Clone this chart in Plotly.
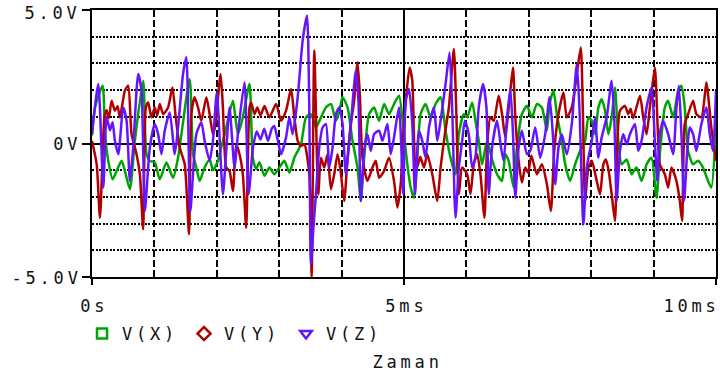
import plotly.graph_objects as go

# ---- data (time in ms, voltage in V) ----
time_x = [0, .048, .170, .208, .261, .330, .394, .474, .527, .607,
          .687, .820, .873, .927, 1.006, 1.086, 1.193, 1.299, 1.379, 1.565,
          1.619, 1.672, 1.725, 1.805, 1.885, 1.94, 2.018, 2.071, 2.151, 2.258,
          2.338, 2.417, 2.524, 2.577, 2.63, 2.684, 2.764, 2.843, 2.923, 3.003,
          3.083, 3.163, 3.243, 3.349, 3.429, 3.509, 3.589, 3.669, 3.749, 3.829,
          3.909, 3.962, 4.015, 4.095, 4.175, 4.255, 4.308, 4.361, 4.441, 4.521,
          4.601, 4.681, 4.760, 4.840, 4.920, 5.000, 5.053, 5.107, 5.160, 5.213,
          5.266, 5.346, 5.426, 5.506, 5.586, 5.666, 5.745, 5.825, 5.879, 5.958,
          6.012, 6.092, 6.145, 6.198, 6.251, 6.331, 6.411, 6.491, 6.571, 6.624,
          6.677, 6.757, 6.810, 6.890, 6.970, 7.050, 7.130, 7.210, 7.290, 7.332,
          7.396, 7.449, 7.529, 7.583, 7.662, 7.742, 7.822, 7.902, 7.955, 8.009,
          8.062, 8.115, 8.168, 8.222, 8.275, 8.328, 8.381, 8.435, 8.488, 8.568,
          8.647, 8.727, 8.807, 8.887, 8.967, 9.047, 9.100, 9.180, 9.233, 9.313,
          9.393, 9.446, 9.499, 9.553, 9.633, 9.712, 9.792, 9.872, 9.925, 10.0]
volt_x = [0.3, 1.35, 2.16, .35, -.65, -1.34, -1.03, -.65, -1.03, -1.71,
          .1, 2.35, -.4, -.65, -.71, -1.34, -.71, -1.28, -.53, 2.41,
          -.4, -.9, -1.4, -.9, -.6, -1.0, -.65, -.15, .6, 1.6,
          .35, .98, 2.23, -.53, -.95, -.7, -1.21, -.9, -1.15, -.9,
          -.65, -1.09, -.53, -.03, .98, 1.1, .6, .98, 1.35, 1.48,
          .85, 1.2, 1.73, 1.35, .1, -.9, -2.15, -.53, 1.1, 1.35,
          .85, 1.48, 1.1, 1.48, 1.79, .35, -.78, -1.65, -2.03, -.53,
          1.1, 1.48, .98, 1.48, 1.73, .48, -.53, -1.15, .35, 1.1,
          .98, 1.54, .85, .1, -.78, .1, -.59, -1.15, -1.4, -.4,
          -.65, -1.65, -.15, 1.1, 1.41, .98, 1.48, 1.35, .48, 1.48,
          1.98, 1.1, .1, -.78, -1.4, -.78, -.28, .1, .98, .85,
          .35, 1.35, 1.66, 1.23, .35, .98, 2.1, .1, -.78, -.6,
          -1.15, -.9, -1.4, -.78, -.53, -2.03, -.4, 1.35, 1.6, .98,
          1.98, 2.16, 1.35, -.28, -.78, -.65, -.9, -1.4, -1.65, .6]

time_y = [0, .075, .128, .2, .235, .27, .314, .367, .41, .447,
          .527, .580, .634, .714, .767, .820, .863, .900, .953, 1.006,
          1.045, 1.086, 1.140, 1.219, 1.289, 1.342, 1.406, 1.486, 1.555, 1.592,
          1.645, 1.699, 1.752, 1.832, 1.885, 1.938, 1.97, 2.061, 2.098, 2.151,
          2.204, 2.258, 2.311, 2.364, 2.417, 2.471, 2.524, 2.551, 2.604, 2.65,
          2.70, 2.764, 2.843, 2.950, 3.030, 3.110, 3.190, 3.243, 3.296, 3.349,
          3.403, 3.482, 3.520, 3.562, 3.626, 3.669, 3.722, 3.775, 3.829, 3.882,
          3.935, 3.98, 4.042, 4.095, 4.148, 4.201, 4.255, 4.292, 4.334, 4.414,
          4.494, 4.547, 4.601, 4.681, 4.760, 4.840, 4.894, 4.947, 4.989, 5.043,
          5.090, 5.133, 5.176, 5.21, 5.26, 5.320, 5.373, 5.453, 5.533, 5.586,
          5.655, 5.719, 5.799, 5.836, 5.879, 5.932, 6.012, 6.065, 6.118, 6.172,
          6.225, 6.289, 6.331, 6.384, 6.438, 6.518, 6.571, 6.624, 6.704, 6.747,
          6.784, 6.837, 6.890, 6.943, 6.99, 7.04, 7.130, 7.210, 7.290, 7.354,
          7.407, 7.476, 7.556, 7.609, 7.689, 7.769, 7.833, 7.865, 7.902, 7.955,
          8.009, 8.089, 8.142, 8.195, 8.235, 8.275, 8.328, 8.381, 8.424, 8.461,
          8.541, 8.594, 8.63, 8.674, 8.781, 8.834, 8.887, 8.940, 9.020, 9.063,
          9.100, 9.180, 9.233, 9.286, 9.366, 9.420, 9.457, 9.499, 9.553, 9.633,
          9.686, 9.766, 9.846, 9.883, 9.925, 10.0]
volt_y = [.1, -.78, -2.78, .98, 1.25, .95, 1.6, 1.23, 1.4, .98,
          1.98, 2.16, .35, -.4, -1.15, -3.21, 1.35, 1.54, .98, 1.35,
          1.05, 1.48, 1.1, 1.35, 2.1, .98, -.15, -.78, -3.4, 1.1,
          1.73, 1.35, .85, 1.73, 1.1, .35, .6, 2.6, 1.35, -.9,
          -1.03, -1.78, -.03, -.4, -1.15, -3.15, 1.35, 1.54, 1.1, 1.35,
          1.05, 1.4, .98, 1.48, .85, 1.23, 2.04, .98, .1, -.09,
          -.03, -1.15, -5.0, 3.48, -1.9, -.53, -.9, -.4, -1.71, -1.15,
          -.4, -.95, -2.15, -.53, .73, 1.6, 3.04, 1.85, -.53, -1.4,
          -.9, -.65, -1.28, -1.03, -.53, -1.4, -2.4, -1.53, .35, 1.98,
          2.85, 2.35, -.65, -.9, -.5, -.9, -.4, -1.15, -2.15, -.9,
          .35, 1.35, 3.54, 1.35, -1.9, -.9, -1.15, -1.9, -.78, -.4,
          -1.15, -2.78, -.15, .98, .85, 1.79, 1.1, .23, 1.98, 2.85,
          .98, -.65, -1.46, -.9, -1.1, -.45, -1.15, -.78, -1.53, -2.53,
          -.28, 1.1, 1.91, .98, 1.35, 2.6, 3.6, 1.35, -2.15, -.9,
          -.65, -1.4, -1.9, -.78, -.6, -.95, -1.9, -2.9, .35, 1.23,
          1.41, 1.1, 1.3, .95, 1.79, .98, .35, 1.35, 2.85, .73,
          -.78, -1.15, -1.65, -.9, -1.4, -2.15, -2.9, .73, 1.1, 1.6,
          1.1, .98, 2.29, 1.6, .6, -.65]

time_z = [0, .101, .181, .234, .288, .33, .367, .421, .501, .554,
          .607, .660, .740, .793, .847, .927, 1.006, 1.060, 1.113, 1.166,
          1.246, 1.326, 1.379, 1.459, 1.512, 1.575, 1.672, 1.752, 1.805, 1.885,
          1.938, 2.0, 2.098, 2.151, 2.204, 2.284, 2.338, 2.444, 2.51, 2.58,
          2.64, 2.70, 2.76, 2.82, 2.88, 2.92, 2.98, 3.03, 3.11, 3.163,
          3.216, 3.296, 3.376, 3.445, 3.482, 3.509, 3.552, 3.589, 3.642, 3.695,
          3.749, 3.802, 3.855, 3.909, 3.962, 4.015, 4.068, 4.148, 4.228, 4.270,
          4.308, 4.361, 4.414, 4.468, 4.521, 4.601, 4.654, 4.734, 4.787, 4.840,
          4.920, 4.989, 5.027, 5.080, 5.133, 5.176, 5.240, 5.293, 5.346, 5.400,
          5.479, 5.533, 5.586, 5.666, 5.730, 5.772, 5.825, 5.879, 5.932, 5.975,
          6.038, 6.092, 6.145, 6.198, 6.267, 6.321, 6.358, 6.411, 6.491, 6.555,
          6.597, 6.651, 6.704, 6.747, 6.784, 6.837, 6.890, 6.970, 7.023, 7.103,
          7.183, 7.263, 7.332, 7.385, 7.423, 7.476, 7.529, 7.609, 7.689, 7.769,
          7.811, 7.875, 7.929, 8.009, 8.062, 8.115, 8.168, 8.248, 8.328, 8.371,
          8.408, 8.461, 8.514, 8.568, 8.621, 8.701, 8.754, 8.807, 8.887, 8.967,
          9.020, 9.058, 9.100, 9.153, 9.233, 9.313, 9.366, 9.404, 9.446, 9.489,
          9.542, 9.579, 9.633, 9.686, 9.766, 9.846, 9.899, 9.952, 10.0]
volt_z = [.35, 2.23, -1.65, .98, .5, .8, .1, -.4, 1.35, .85,
          -1.4, -.15, 2.6, 1.98, -2.53, -.15, .73, .35, -.4, .48,
          1.16, -.4, .6, 2.6, 3.23, -2.55, .35, .79, .1, -.65,
          .1, 1.9, -1.9, -.28, 1.35, -.9, .35, 2.29, -1.9, -.15,
          .45, .15, .55, .1, .55, .66, .1, -.4, .23, .98,
          .35, 1.73, 3.85, 4.79, 1.35, -4.53, -3.03, -1.9, -.15, .6,
          .73, -.9, -.15, 1.1, 1.35, .73, -1.15, .73, 2.73, 1.6,
          -2.15, -.28, .35, -.28, .35, .48, .1, .73, -.4, .23,
          1.35, -1.9, 1.6, 2.04, .73, -1.9, .48, .1, -.53, .6,
          1.35, .1, .85, 2.23, 3.41, 1.35, -2.78, -.9, .1, .85,
          .35, -.9, -.53, 1.35, 2.23, 1.35, -1.9, -.15, .85, -.15,
          -.65, .98, 2.04, .35, -2.03, -.15, .48, -.4, -.28, .6,
          -.53, .35, 1.73, .35, -1.53, -.15, .35, -.4, .73, 2.98,
          1.35, -3.03, -.9, .1, .98, -.53, .23, .98, 2.35, .85,
          -2.15, -.28, .35, -.03, .35, .73, -.28, .1, 1.35, 2.1,
          .1, -1.4, .35, .85, .35, -.4, 1.35, 2.16, .35, -2.15,
          -.15, .6, .35, -.28, .73, 1.35, .35, -.28, 1.98]

series_names = ["V(X)", "V(Y)", "V(Z)"]
y_tick_vals = [5, 0, -5]
y_tick_labels = ["5.0V", "0V", "-5.0V"]
x_tick_vals = [0, 5, 10]
x_tick_labels = ["0s", "5ms", "10ms"]
x_title = "Zaman"

# ---- styles ----
colors = ["#00a400", "#b00000", "#6414ff"]
symbols = ["square-open", "diamond-open", "triangle-down-open"]
FONT = "DejaVu Sans Mono"
TXT = "#111111"
FS = 17

fig = go.Figure()
for t, v, c in zip([time_x, time_y, time_z], [volt_x, volt_y, volt_z], colors):
    fig.add_trace(go.Scatter(x=t, y=v, mode="lines", showlegend=False,
                             line=dict(color=c, width=2.5, shape="spline", smoothing=0.6),
                             hoverinfo="skip"))
for name, c, s in zip(series_names, colors, symbols):
    fig.add_trace(go.Scatter(x=[None], y=[None], mode="markers", name=name,
                             marker=dict(symbol=s, size=10, color=c,
                                         line=dict(color=c, width=2.5))))

grid_common = dict(showline=True, mirror=True, linecolor="black", linewidth=2,
                   showgrid=True, gridcolor="black", gridwidth=2,
                   ticks="outside", tickcolor="black", tickwidth=2,
                   showticklabels=False, zeroline=False, fixedrange=True)

fig.update_xaxes(range=[0, 10], tickvals=x_tick_vals, ticklen=6,
                 minor=dict(dtick=1, tick0=0, showgrid=True, gridcolor="black",
                            gridwidth=2, griddash="7px,3px"),
                 **grid_common)
fig.update_yaxes(range=[-5, 5], tickvals=y_tick_vals, ticklen=8,
                 minor=dict(dtick=1, tick0=0, showgrid=True, gridcolor="black",
                            gridwidth=2, griddash="2px,1.5px"),
                 **grid_common)

annotations = []
y_shift = {"5.0V": (-39.5, -2.5), "0V": (-25, 0), "-5.0V": (-46, -1)}
for val, lab in zip(y_tick_vals, y_tick_labels):
    dx, dy = y_shift[lab]
    annotations.append(dict(xref="paper", x=0, yref="y", y=val, text=lab,
                            showarrow=False, xanchor="center", yanchor="middle",
                            xshift=dx, yshift=dy))
x_shift = {"0s": 2, "5ms": 2.5, "10ms": -25}
for val, lab in zip(x_tick_vals, x_tick_labels):
    annotations.append(dict(xref="x", x=val, yref="paper", y=0, text=lab,
                            showarrow=False, xanchor="center", yanchor="middle",
                            xshift=x_shift[lab], yshift=-29))
annotations.append(dict(xref="paper", x=0.5, yref="paper", y=0, text=x_title,
                        showarrow=False, xanchor="center", yanchor="middle",
                        xshift=3, yshift=-85))

fig.update_layout(
    width=720, height=377,
    margin=dict(l=92, r=2, t=10, b=100),
    paper_bgcolor="white", plot_bgcolor="white",
    font=dict(family=FONT, size=FS, color=TXT),
    annotations=annotations,
    legend=dict(orientation="h", x=-0.016, y=-0.2135, xanchor="left", yanchor="middle",
                entrywidth=57, entrywidthmode="pixels", itemwidth=30,
                bgcolor="rgba(0,0,0,0)", font=dict(family=FONT, size=FS, color=TXT)),
)

post = ("var gd=document.getElementById('{plot_id}');"
        "gd.querySelectorAll('text').forEach(function(t){t.style.letterSpacing='3.8px';});")
fig.write_html("out.html", config={"displayModeBar": False, "staticPlot": True},
               post_script=post)
